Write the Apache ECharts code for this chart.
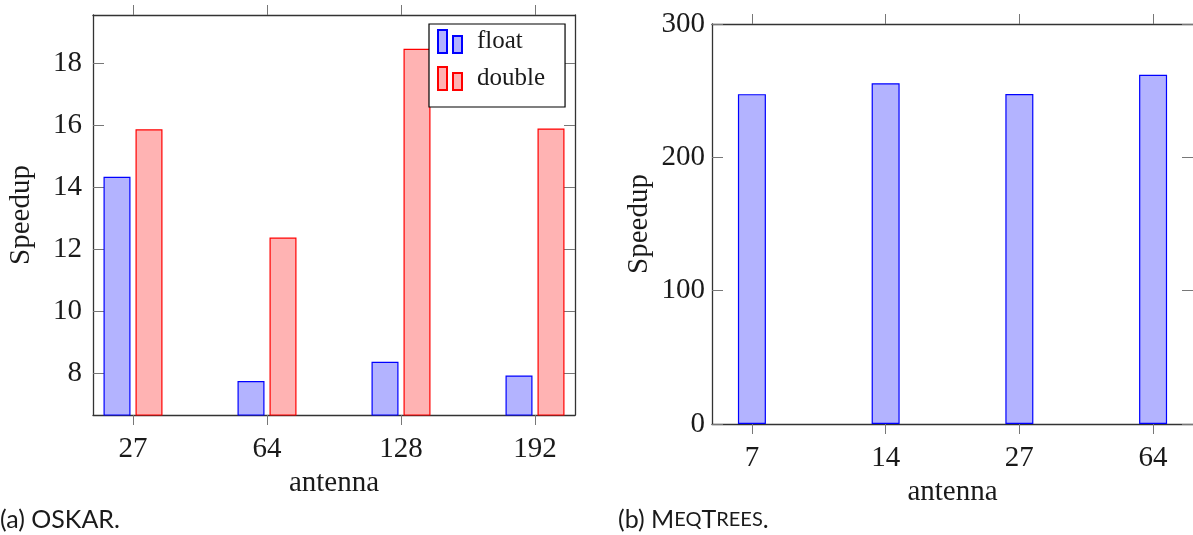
<!DOCTYPE html>
<html>
<head>
<meta charset="utf-8">
<script src="https://cdn.jsdelivr.net/npm/echarts@6/dist/echarts.min.js"></script>
<style>html,body{margin:0;padding:0;background:#fff}#c{width:1193px;height:535px}</style>
</head>
<body>
<div id="c"></div>
<script>
// ---- data ----
const oskarCats = ['27', '64', '128', '192'];
const floatVals = [14.33, 7.74, 8.36, 7.92];
const doubleVals = [15.86, 12.37, 18.46, 15.89];
const oskarYTicks = [8, 10, 12, 14, 16, 18];

const meqCats = ['7', '14', '27', '64'];
const meqVals = [247.4, 255.6, 247.5, 261.9];
const meqYTicks = [0, 100, 200, 300];

const catIdx = [0, 1, 2, 3];
// ---- styles ----
const serif = 'Liberation Serif';
const fs = 29;
const txt = '#1a1a1a';
const lineCol = '#333';
const tickCol = '#777';
const pad = 40 / 134;

function xAxes(gridIndex, cats) {
  return [{
    type: 'value', gridIndex, position: 'bottom', min: -pad, max: 3 + pad,
    splitLine: {show: false},
    axisLine: {show: true, onZero: false, lineStyle: {color: lineCol, width: 1.3}},
    axisTick: {show: true, inside: false, length: 10, customValues: catIdx, lineStyle: {color: tickCol}},
    axisLabel: {show: true, customValues: catIdx, formatter: v => cats[Math.round(v)], margin: 20,
      fontFamily: serif, fontSize: fs, color: txt},
    name: 'antenna', nameLocation: 'middle', nameGap: 53,
    nameTextStyle: {fontFamily: serif, fontSize: fs, color: txt}
  }, {
    type: 'value', gridIndex, position: 'top', min: -pad, max: 3 + pad,
    splitLine: {show: false},
    axisLine: {show: true, onZero: false, lineStyle: {color: lineCol, width: 1.3}},
    axisTick: {show: true, inside: false, length: 10, customValues: catIdx, lineStyle: {color: tickCol}},
    axisLabel: {show: false}
  }];
}
function yAxes(gridIndex, min, max, ticks, labelMargin, nameGap, rightLine) {
  return [{
    type: 'value', gridIndex, position: 'left', min, max,
    splitLine: {show: false},
    axisLine: {show: true, onZero: false, lineStyle: {color: lineCol, width: 1.3}},
    axisTick: {show: true, inside: true, length: 11, customValues: ticks, lineStyle: {color: tickCol}},
    axisLabel: {show: true, customValues: ticks, margin: labelMargin,
      fontFamily: serif, fontSize: fs, color: txt},
    name: 'Speedup', nameLocation: 'middle', nameGap: nameGap,
    nameTextStyle: {fontFamily: serif, fontSize: fs, color: txt}
  }, {
    type: 'value', gridIndex, position: 'right', min, max,
    splitLine: {show: false},
    axisLine: {show: rightLine, onZero: false, lineStyle: {color: lineCol, width: 1.3}},
    axisTick: {show: true, inside: true, length: 11, customValues: ticks, lineStyle: {color: tickCol}},
    axisLabel: {show: false}
  }];
}

const blueStyle = {color: '#b3b3ff', borderColor: '#0000ff', borderWidth: 1.2};
const redStyle = {color: '#ffb3b3', borderColor: '#ff0000', borderWidth: 1.2};
const icon = 'path://M0,0H9V23H0Z M15,6H24V23H15Z';

const option = {
  animation: false,
  backgroundColor: '#fff',
  grid: [
    {left: 93, top: 15, width: 482, height: 400},
    {left: 712, top: 24, width: 483, height: 400}
  ],
  xAxis: [...xAxes(0, oskarCats), ...xAxes(1, meqCats)],
  yAxis: [...yAxes(0, 6.645, 19.55, oskarYTicks, 11, 57, true), ...yAxes(1, 0, 300, meqYTicks, 7, 58, false)],
  legend: {
    show: true, orient: 'vertical', left: 429, top: 24,
    data: [{name: 'float', icon: icon}, {name: 'double', icon: icon}],
    itemWidth: 24, itemHeight: 23, itemGap: 12,
    padding: [5, 20, 16, 8],
    borderColor: '#000', borderWidth: 1.2, backgroundColor: '#fff',
    textStyle: {fontFamily: serif, fontSize: 25, color: txt, padding: [0, 0, 0, 10]}
  },
  title: [
    {text: '(a) OSKAR.', left: 0, top: 507, padding: 0,
      textStyle: {fontFamily: 'Lato', fontSize: 25, fontWeight: 'normal', color: txt}},
    {text: '{n|(b) M}{s|EQ}{n|T}{s|REES}{n|.}', left: 618, top: 507, padding: 0,
      textStyle: {fontWeight: 'normal', rich: {
        n: {fontFamily: 'Lato', fontSize: 25, fontWeight: 'normal', color: txt},
        s: {fontFamily: 'Lato', fontSize: 20, fontWeight: 'normal', color: txt}
      }}}
  ],
  series: [
    {name: 'float', type: 'bar', xAxisIndex: 0, yAxisIndex: 0, barWidth: 27, barGap: '18.5%',
      data: floatVals.map((v, i) => [catIdx[i], v]), itemStyle: blueStyle},
    {name: 'double', type: 'bar', xAxisIndex: 0, yAxisIndex: 0, barWidth: 27, barGap: '18.5%',
      data: doubleVals.map((v, i) => [catIdx[i], v]), itemStyle: redStyle},
    {name: 'meq', type: 'bar', xAxisIndex: 2, yAxisIndex: 2, barWidth: 28,
      data: meqVals.map((v, i) => [catIdx[i], v]), itemStyle: blueStyle}
  ]
};
const chart = echarts.init(document.getElementById('c'), null, {renderer: 'canvas'});
chart.setOption(option);
</script>
</body>
</html>
